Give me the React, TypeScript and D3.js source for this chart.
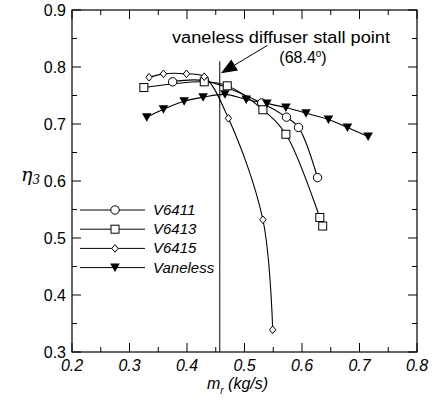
import React from 'react';
import * as d3 from 'd3';

// values: [m_r (kg/s), eta_3]
const v6411: [number, number][] = [
  [0.375, 0.774], [0.43, 0.776], [0.53, 0.737], [0.573, 0.712], [0.594, 0.694], [0.627, 0.606],
];
const v6413: [number, number][] = [
  [0.325, 0.764], [0.43, 0.774], [0.47, 0.767], [0.532, 0.725], [0.572, 0.682], [0.631, 0.536], [0.636, 0.521],
];
const v6415: [number, number][] = [
  [0.334, 0.782], [0.359, 0.788], [0.399, 0.788], [0.43, 0.783], [0.472, 0.71], [0.532, 0.532], [0.549, 0.339],
];
const vaneless: [number, number][] = [
  [0.33, 0.712], [0.359, 0.726], [0.395, 0.74], [0.428, 0.747], [0.466, 0.752], [0.503, 0.743],
  [0.539, 0.736], [0.572, 0.729], [0.607, 0.719], [0.646, 0.708], [0.679, 0.694], [0.715, 0.678],
];
const legendNames = ['V6411', 'V6413', 'V6415', 'Vaneless'];
const xTicks = [0.2, 0.3, 0.4, 0.5, 0.6, 0.7, 0.8];
const yTicks = [0.3, 0.4, 0.5, 0.6, 0.7, 0.8, 0.9];
const stallX = 0.457;
const stallTop = 0.81;

const width = 434;
const height = 400;
const font = '"Liberation Sans", Arial, sans-serif';

const x = d3.scaleLinear().domain([0.2, 0.8]).range([72, 417]);
const y = d3.scaleLinear().domain([0.3, 0.9]).range([352, 10]);

const line = d3.line<[number, number]>()
  .x(d => x(d[0]))
  .y(d => y(d[1]))
  .curve(d3.curveCatmullRom.alpha(0.5));

type Kind = 'circle' | 'square' | 'diamond' | 'tri';

const Marker = ({ kind, cx, cy }: { kind: Kind; cx: number; cy: number }) => {
  if (kind === 'circle') return <circle cx={cx} cy={cy} r={4.2} fill="#fff" stroke="#000" strokeWidth={1} />;
  if (kind === 'square') return <rect x={cx - 4} y={cy - 4} width={8} height={8} fill="#fff" stroke="#000" strokeWidth={1} />;
  if (kind === 'diamond')
    return <path d={`M${cx},${cy - 3.8}L${cx + 3.2},${cy}L${cx},${cy + 3.8}L${cx - 3.2},${cy}Z`} fill="#fff" stroke="#000" strokeWidth={1} />;
  return <path d={`M${cx - 4.8},${cy - 4}L${cx + 4.8},${cy - 4}L${cx},${cy + 4.5}Z`} fill="#000" />;
};

const series: { data: [number, number][]; kind: Kind }[] = [
  { data: v6411, kind: 'circle' },
  { data: v6413, kind: 'square' },
  { data: v6415, kind: 'diamond' },
  { data: vaneless, kind: 'tri' },
];

const App = () => {
  const minorX = d3.range(0.25, 0.8, 0.1);
  const minorY = d3.range(0.35, 0.9, 0.1);
  const [x0, x1] = x.range();
  const [y0, y1] = y.range();

  // arrow from annotation text to the stall line
  const tail = [x(0.54), y(0.838)];
  const tip = [x(0.459), y(0.789)];
  const ang = Math.atan2(tip[1] - tail[1], tip[0] - tail[0]);
  const hl = 16, hw = 6.5;
  const bx = tip[0] - hl * Math.cos(ang), by = tip[1] - hl * Math.sin(ang);
  const head = `M${tip[0]},${tip[1]}L${bx + hw * Math.sin(ang)},${by - hw * Math.cos(ang)}L${bx - hw * Math.sin(ang)},${by + hw * Math.cos(ang)}Z`;

  return (
    <svg width={width} height={height} style={{ position: 'absolute', left: 0, top: 0, background: '#fff' }} fontFamily={font}>
      {/* frame */}
      <rect x={x0} y={y1} width={x1 - x0} height={y0 - y1} fill="none" stroke="#000" strokeWidth={1.2} />

      {/* ticks on all four sides, pointing in */}
      {xTicks.map(t => (
        <g key={'xt' + t}>
          <line x1={x(t)} x2={x(t)} y1={y0} y2={y0 - 9} stroke="#000" />
          <line x1={x(t)} x2={x(t)} y1={y1} y2={y1 + 9} stroke="#000" />
          <text x={x(t)} y={371} textAnchor="middle" fontSize={16} fontStyle="italic">{t.toFixed(1)}</text>
        </g>
      ))}
      {minorX.map(t => (
        <g key={'xm' + t}>
          <line x1={x(t)} x2={x(t)} y1={y0} y2={y0 - 5} stroke="#000" />
          <line x1={x(t)} x2={x(t)} y1={y1} y2={y1 + 5} stroke="#000" />
        </g>
      ))}
      {yTicks.map(t => (
        <g key={'yt' + t}>
          <line x1={x0} x2={x0 + 9} y1={y(t)} y2={y(t)} stroke="#000" />
          <line x1={x1} x2={x1 - 9} y1={y(t)} y2={y(t)} stroke="#000" />
          <text x={66} y={y(t) + 6} textAnchor="end" fontSize={16}>{t.toFixed(1)}</text>
        </g>
      ))}
      {minorY.map(t => (
        <g key={'ym' + t}>
          <line x1={x0} x2={x0 + 5} y1={y(t)} y2={y(t)} stroke="#000" />
          <line x1={x1} x2={x1 - 5} y1={y(t)} y2={y(t)} stroke="#000" />
        </g>
      ))}

      {/* axis titles */}
      <text x={21} y={181} fontSize={19} fontStyle="italic" fontFamily="'DejaVu Serif', serif">η<tspan fontSize={12} dy={3}>3</tspan></text>
      <text x={207} y={389} fontSize={16} fontStyle="italic">m<tspan fontSize={10} dy={5}>r</tspan><tspan dy={-5}> (kg/s)</tspan></text>

      {/* stall line and annotation */}
      <line x1={x(stallX)} x2={x(stallX)} y1={y(stallTop)} y2={y0} stroke="#000" strokeWidth={1} />
      <line x1={tail[0]} y1={tail[1]} x2={bx} y2={by} stroke="#000" strokeWidth={1} />
      <path d={head} fill="#000" />
      <text x={281} y={43} textAnchor="middle" fontSize={16} textLength={218} lengthAdjust="spacingAndGlyphs">vaneless diffuser stall point</text>
      <text x={303} y={63} textAnchor="middle" fontSize={16}>(68.4<tspan fontSize={10} dy={-6}>o</tspan><tspan dy={6}>)</tspan></text>

      {/* curves */}
      {series.map(s => (
        <path key={s.kind} d={line(s.data) ?? ''} fill="none" stroke="#000" strokeWidth={1.1} />
      ))}
      {series.map(s => s.data.map((d, i) => (
        <Marker key={s.kind + i} kind={s.kind} cx={x(d[0])} cy={y(d[1])} />
      )))}

      {/* legend */}
      {series.map((s, i) => {
        const ly = 210 + i * 19.2;
        return (
          <g key={'lg' + i}>
            <line x1={80} x2={145} y1={ly} y2={ly} stroke="#000" strokeWidth={1} />
            <Marker kind={s.kind} cx={115} cy={ly} />
            <text x={153} y={ly + 5} fontSize={15} fontStyle="italic">{legendNames[i]}</text>
          </g>
        );
      })}
    </svg>
  );
};

export default App;
